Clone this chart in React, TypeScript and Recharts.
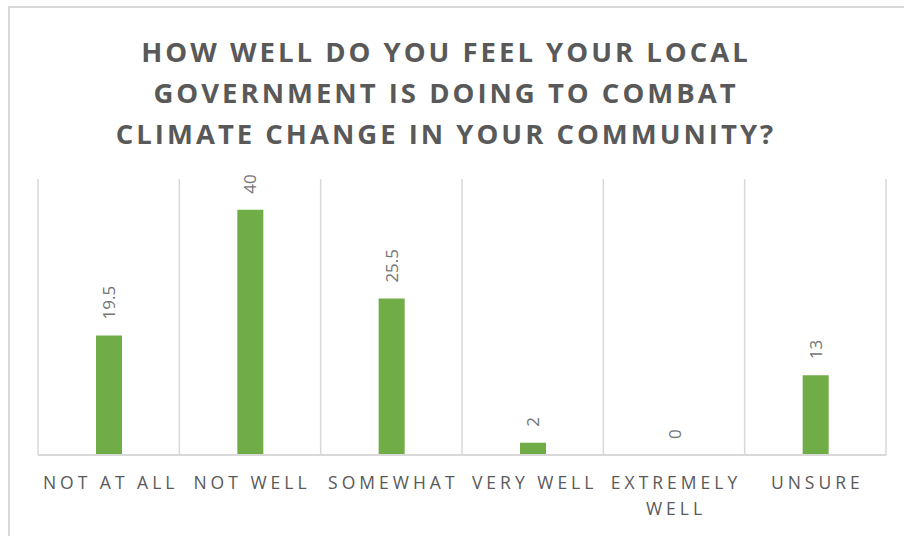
import { ComposedChart, Bar, Line, XAxis, YAxis, CartesianGrid, LabelList } from "recharts";

const categories = ["Not at all", "Not well", "Somewhat", "Very well", "Extremely well", "Unsure"];
const responses = [19.5, 40, 25.5, 2, 0, 13];
const titleLines = [
  "HOW WELL DO YOU FEEL YOUR LOCAL",
  "GOVERNMENT IS DOING TO COMBAT",
  "CLIMATE CHANGE IN YOUR COMMUNITY?",
];

const data = categories.map((c, i) => ({ name: c.toUpperCase(), value: responses[i] }));

const FONT = "'Open Sans', sans-serif";
const GRID = "#d9d9d9";

function CategoryTick(props: any) {
  const { x, y, payload } = props;
  const label: string = payload.value;
  let lines = [label];
  if (label.length > 12) {
    const cut = label.lastIndexOf(" ");
    lines = [label.slice(0, cut), label.slice(cut + 1)];
  }
  return (
    <g>
      {lines.map((ln, i) => (
        <text
          key={i}
          x={x + 2}
          y={y + 34 + i * 26}
          textAnchor="middle"
          fill="#595959"
          fontFamily={FONT}
          fontSize={17.5}
          letterSpacing={4}
        >
          {ln}
        </text>
      ))}
    </g>
  );
}

// value labels sit on an invisible line so the 0 category still gets one
function ValueLabel(props: any) {
  const { x, y, value } = props;
  const cx = x;
  const cy = y - 16;
  return (
    <text
      x={cx}
      y={cy}
      transform={`rotate(-90, ${cx}, ${cy})`}
      textAnchor="start"
      dominantBaseline="central"
      fill="#757575"
      fontFamily={FONT}
      fontSize={17}
    >
      {value}
    </text>
  );
}

export default function App() {
  return (
    <div style={{ position: "absolute", left: 0, top: 0, width: 904, height: 536, overflow: "hidden", background: "#fff" }}>
      <div
        style={{
          position: "absolute",
          left: 8,
          top: 6,
          width: 940,
          height: 600,
          border: `2px solid ${GRID}`,
          boxSizing: "border-box",
        }}
      />
      <div
        style={{
          position: "absolute",
          left: 0,
          top: 31,
          width: 892,
          textAlign: "center",
          fontFamily: FONT,
          fontWeight: 700,
          fontSize: 27.5,
          lineHeight: "41px",
          letterSpacing: 3,
          color: "#595959",
        }}
      >
        {titleLines.map((t, i) => (
          <div key={i}>{t}</div>
        ))}
      </div>
      <div style={{ position: "absolute", left: 0, top: 0 }}>
        <ComposedChart
          width={904}
          height={536}
          data={data}
          margin={{ top: 179, right: 18, bottom: 21, left: 38 }}
        >
          <CartesianGrid
            horizontal={false}
            stroke={GRID}
            strokeWidth={1.5}
            verticalCoordinatesGenerator={({ offset }: any) =>
              categories.map((_, i) => offset.left + (i + 1) * (offset.width / categories.length)).concat([offset.left])
            }
          />
          <XAxis
            dataKey="name"
            height={60}
            tickLine={false}
            tickSize={0}
            tickMargin={0}
            axisLine={{ stroke: GRID, strokeWidth: 2 }}
            tick={<CategoryTick />}
            interval={0}
          />
          <YAxis hide domain={[0, 45]} />
          <Bar dataKey="value" fill="#70AD47" barSize={26} isAnimationActive={false} />
          <Line
            dataKey="value"
            stroke="none"
            dot={false}
            activeDot={false}
            legendType="none"
            isAnimationActive={false}
          >
            <LabelList dataKey="value" content={<ValueLabel />} />
          </Line>
        </ComposedChart>
      </div>
    </div>
  );
}
